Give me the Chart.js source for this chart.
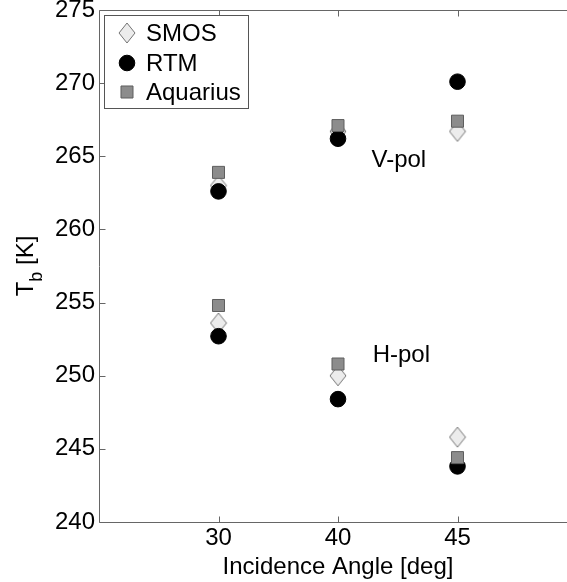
<!DOCTYPE html>
<html><head><meta charset="utf-8">
<script src="https://cdn.jsdelivr.net/npm/chart.js@4/dist/chart.umd.min.js"></script>
<style>html,body{margin:0;padding:0;overflow:hidden;background:#fff}
#wrap{width:567px;height:582px;overflow:hidden;position:relative}</style>
</head><body>
<div id="wrap"><canvas id="c" width="590" height="582" style="display:block"></canvas></div>
<script>
// ---- data ----
const angleLabels = ['30', '40', '45'];      // incidence angle tick labels
const anglePositions = [1, 2, 3];            // evenly spaced positions on the axis
const seriesNames = ['SMOS', 'RTM', 'Aquarius'];
const smosV = [263.0, 266.7, 266.7];
const smosH = [253.6, 250.0, 245.8];
const rtmV = [262.6, 266.2, 270.1];
const rtmH = [252.7, 248.4, 243.8];
const aquariusV = [263.9, 267.1, 267.4];
const aquariusH = [254.8, 250.8, 244.4];
const polLabels = [{text: 'V-pol', x: 2.28, y: 264.7}, {text: 'H-pol', x: 2.29, y: 251.4}];

const FONT = '"Liberation Sans", Arial, Helvetica, sans-serif';
const AX = '#666666';

function pts(v, h) {
  return anglePositions.map((p, i) => ({x: p, y: v[i]}))
    .concat(anglePositions.map((p, i) => ({x: p, y: h[i]})));
}

// MATLAB-like diamond (taller than wide)
function makeDiamond() {
  const c = document.createElement('canvas');
  c.width = 18; c.height = 22;
  const g = c.getContext('2d');
  g.beginPath();
  g.moveTo(9, 1); g.lineTo(17, 11); g.lineTo(9, 21); g.lineTo(1, 11); g.closePath();
  g.fillStyle = '#ececec'; g.fill();
  g.strokeStyle = '#737373'; g.lineWidth = 1; g.stroke();
  return c;
}
const diamond = makeDiamond();

const styles = [
  {pointStyle: diamond, radius: 9, bg: '#ececec', border: '#777777', order: 3},
  {pointStyle: 'circle', radius: 7.8, bg: '#000000', border: '#000000', order: 2},
  {pointStyle: 'rect', radius: 8.5, bg: '#8c8c8c', border: '#5e5e5e', order: 1}
];
const seriesData = [pts(smosV, smosH), pts(rtmV, rtmH), pts(aquariusV, aquariusH)];

const datasets = seriesNames.map((n, i) => ({
  label: n,
  data: seriesData[i],
  pointStyle: styles[i].pointStyle,
  pointRadius: styles[i].radius,
  pointHoverRadius: styles[i].radius,
  backgroundColor: styles[i].bg,
  borderColor: styles[i].border,
  pointBorderWidth: 1,
  order: styles[i].order,
  showLine: false
}));

const decor = {
  id: 'decor',
  beforeDatasetsDraw(chart) {
    const ctx = chart.ctx, a = chart.chartArea;
    const xs = chart.scales.x, ys = chart.scales.y;
    ctx.save();
    ctx.strokeStyle = AX; ctx.lineWidth = 1;
    const L = Math.round(a.left) + 0.5, T = Math.round(a.top) + 0.5, B = Math.round(a.bottom) + 0.5;
    const R = a.right;
    ctx.beginPath();
    ctx.moveTo(L, T); ctx.lineTo(L, B);
    ctx.moveTo(L, B); ctx.lineTo(R, B);
    ctx.moveTo(L, T); ctx.lineTo(R, T);
    xs.ticks.forEach(t => {
      const px = Math.round(xs.getPixelForValue(t.value)) + 0.5;
      ctx.moveTo(px, B); ctx.lineTo(px, B - 6);
      ctx.moveTo(px, T); ctx.lineTo(px, T + 6);
    });
    ys.ticks.forEach(t => {
      const py = Math.round(ys.getPixelForValue(t.value)) + 0.5;
      ctx.moveTo(L, py); ctx.lineTo(L + 6, py);
    });
    ctx.stroke();
    ctx.restore();
  },
  afterDraw(chart) {
    const ctx = chart.ctx;
    const xs = chart.scales.x, ys = chart.scales.y;
    ctx.save();
    ctx.fillStyle = '#000';
    ctx.font = '24px ' + FONT;
    ctx.textBaseline = 'middle'; ctx.textAlign = 'left';
    polLabels.forEach(p => ctx.fillText(p.text, xs.getPixelForValue(p.x), ys.getPixelForValue(p.y)));

    ctx.save();
    ctx.translate(33, 266);
    ctx.rotate(-Math.PI / 2);
    ctx.textBaseline = 'alphabetic';
    const big = '24px ' + FONT, small = '18px ' + FONT;
    ctx.font = big; const wT = ctx.measureText('T').width;
    ctx.font = small; const wb = ctx.measureText('b').width;
    ctx.font = big; const wK = ctx.measureText(' [K]').width;
    let x0 = -(wT + wb + wK) / 2;
    ctx.font = big; ctx.fillText('T', x0, 0);
    ctx.font = small; ctx.fillText('b', x0 + wT, 9);
    ctx.font = big; ctx.fillText(' [K]', x0 + wT + wb, 0);
    ctx.restore();

    const lx = 104, ly = 15, lw = 144, lh = 93;
    ctx.fillStyle = '#fff';
    ctx.fillRect(lx, ly, lw, lh);
    ctx.strokeStyle = '#555'; ctx.lineWidth = 1;
    ctx.strokeRect(lx + 0.5, ly + 0.5, lw, lh);
    const rowY = [33, 63, 92];
    chart.data.datasets.forEach((ds, i) => {
      ctx.fillStyle = ds.backgroundColor; ctx.strokeStyle = ds.borderColor; ctx.lineWidth = 1;
      Chart.helpers.drawPoint(ctx, {pointStyle: ds.pointStyle, radius: ds.pointRadius, rotation: 0, borderWidth: 1}, 127, rowY[i]);
      ctx.fillStyle = '#000'; ctx.font = '24px ' + FONT; ctx.textBaseline = 'middle';
      ctx.fillText(ds.label, 146, rowY[i] + 1);
    });
    ctx.restore();
  }
};

new Chart(document.getElementById('c'), {
  type: 'scatter',
  data: {datasets},
  plugins: [decor],
  options: {
    responsive: false,
    animation: false,
    layout: {padding: {left: 0, top: 10, right: 13, bottom: 0}},
    plugins: {legend: {display: false}, tooltip: {enabled: false}},
    scales: {
      x: {
        type: 'linear', min: 0, max: 4,
        afterBuildTicks: s => { s.ticks = anglePositions.map(v => ({value: v})); },
        afterFit: s => { s.height = 60; s.paddingLeft = 0; s.paddingRight = 0; },
        ticks: {
          callback: (v) => angleLabels[anglePositions.indexOf(v)],
          color: '#000', font: {size: 24, family: FONT}, padding: 2, maxRotation: 0
        },
        grid: {display: false, drawTicks: false},
        border: {display: false},
        title: {display: true, text: 'Incidence Angle [deg]', color: '#000', font: {size: 24, family: FONT}, padding: {top: -6, bottom: 0}}
      },
      y: {
        type: 'linear', min: 240, max: 275,
        afterFit: s => { s.width = 99; s.paddingTop = 0; s.paddingBottom = 0; },
        ticks: {stepSize: 5, color: '#000', font: {size: 24, family: FONT}, padding: 4},
        grid: {display: false, drawTicks: false},
        border: {display: false}
      }
    }
  }
});
</script>
</body></html>
